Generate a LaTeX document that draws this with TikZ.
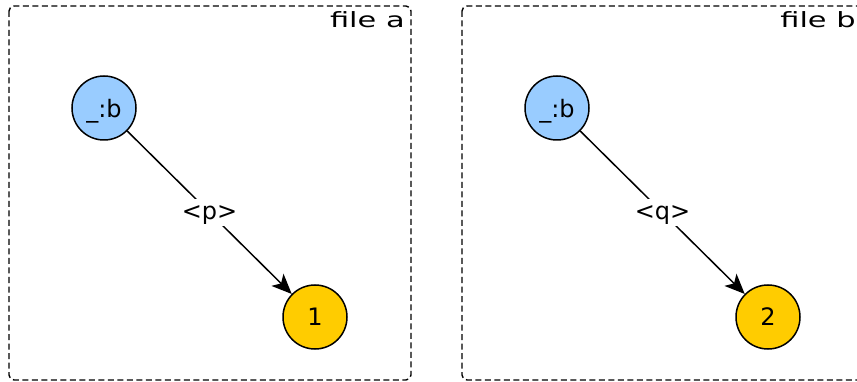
\documentclass[tikz,border=0pt]{standalone}
\usepackage{fontspec}
\setmainfont{DejaVu Sans}
\usetikzlibrary{arrows.meta}
\definecolor{blanknode}{HTML}{99CCFF}
\definecolor{litnode}{HTML}{FFCC00}

\begin{document}
\begin{tikzpicture}[x=1pt,y=-1pt,
        blank/.style={circle,draw,line width=1.5pt,fill=blanknode,minimum size=64pt,inner sep=0pt,text depth=0pt,font=\fontsize{24}{24}\selectfont},
        lit/.style={circle,draw,line width=1.5pt,fill=litnode,minimum size=64pt,inner sep=0pt,text depth=0pt,font=\fontsize{24}{24}\selectfont},
        prop/.style={fill=white,inner xsep=3pt,inner ysep=7pt,text depth=0pt,font=\fontsize{24}{24}\selectfont},
        cluster/.style={draw,dash pattern=on 6pt off 3.5pt,line width=1.4pt,rounded corners=5pt},
        clabel/.style={anchor=north east,inner sep=0pt,xscale=1.45,font=\fontsize{21}{21}\selectfont}]
        \useasboundingbox (0,0) rectangle (857,382);

        % file a
        \draw[cluster] (9,6) rectangle (411,380);
        \node[clabel] (fa) at (405,11) {file a};
        \node[blank] at (104,108) (b1) {\_:b};
        \node[lit] at (315,317) (l1) {1};
        \draw[-{Stealth[length=20pt,width=17pt,inset=5pt]},line width=1.5pt] (b1) -- (l1) node [midway,prop] (p) {<p>};

        % file b
        \draw[cluster] (462,6) rectangle (864,380);
        \node[clabel] (fb) at (856,11) {file b};
        \node[blank] at (557,108) (b2) {\_:b};
        \node[lit] at (768,317) (l2) {2};
        \draw[-{Stealth[length=20pt,width=17pt,inset=5pt]},line width=1.5pt] (b2) -- (l2) node [midway,prop] (q) {<q>};

    \end{tikzpicture}
\end{document}
